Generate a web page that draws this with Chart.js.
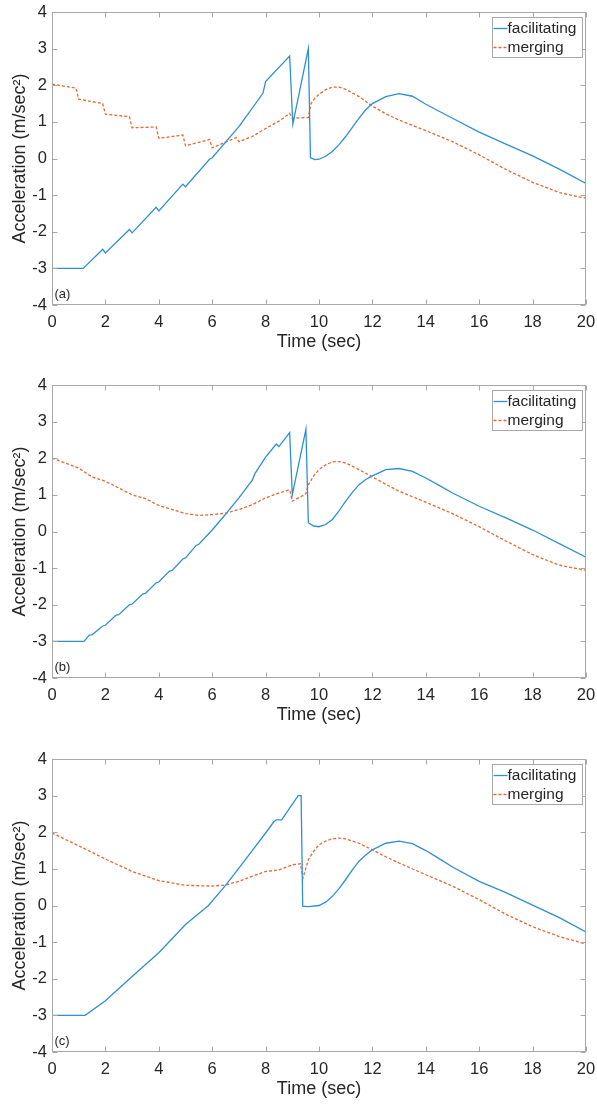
<!DOCTYPE html>
<html>
<head>
<meta charset="utf-8">
<script src="https://cdn.jsdelivr.net/npm/chart.js@4.4.1/dist/chart.umd.min.js"></script>
<style>
  html, body { margin: 0; padding: 0; background: #fff; overflow: hidden; }
  .panel { position: absolute; left: 0; width: 597px; height: 373px; }
</style>
</head>
<body>
<div class="panel" style="top:0"><canvas id="chartA" width="597" height="373"></canvas></div>
<div class="panel" style="top:373px"><canvas id="chartB" width="597" height="373"></canvas></div>
<div class="panel" style="top:747px"><canvas id="chartC" width="597" height="373"></canvas></div>
<script>
// axis ticks
const xTicks = [0, 2, 4, 6, 8, 10, 12, 14, 16, 18, 20];
const yTicks = [-4, -3, -2, -1, 0, 1, 2, 3, 4];

// (a)
const timeFacA = [0, 1.17, 1.9, 2.0, 2.9, 3.0, 3.9, 4.0, 4.9, 5.0, 5.9, 6.0, 7.0, 7.9, 8.0, 8.9, 9.02, 9.6, 9.68, 9.85, 10.0, 10.25, 10.5, 10.75, 11, 11.25, 11.5, 11.75, 12, 12.5, 13, 13.5, 14, 14.5, 15, 16, 17, 18, 19, 20];
const facA = [-3, -3, -2.48, -2.58, -1.94, -2.03, -1.33, -1.43, -0.70, -0.77, -0.02, 0.02, 0.87, 1.78, 2.1, 2.8, 0.94, 3.0, 0.02, -0.03, -0.02, 0.06, 0.19, 0.38, 0.6, 0.85, 1.1, 1.33, 1.5, 1.69, 1.77, 1.7, 1.48, 1.29, 1.1, 0.72, 0.39, 0.07, -0.29, -0.68];
const timeMerA = [0, 0.9, 1.0, 1.9, 2.0, 2.9, 3.0, 3.9, 4.0, 4.9, 5.0, 5.9, 6.0, 6.9, 7.0, 7.5, 8.0, 8.5, 8.9, 9.0, 9.6, 9.7, 9.85, 10.0, 10.25, 10.5, 10.75, 11, 11.5, 12, 12.5, 13, 14, 15, 16, 17, 18, 19, 20];
const merA = [2.03, 1.92, 1.62, 1.5, 1.21, 1.14, 0.84, 0.86, 0.55, 0.64, 0.35, 0.52, 0.29, 0.57, 0.46, 0.6, 0.82, 1.02, 1.23, 1.1, 1.12, 1.5, 1.65, 1.75, 1.88, 1.95, 1.95, 1.89, 1.69, 1.43, 1.22, 1.05, 0.76, 0.46, 0.1, -0.3, -0.65, -0.93, -1.09];

// (b)
const timeFacB = [0, 1.2, 1.4, 1.5, 1.9, 2.0, 2.4, 2.5, 2.9, 3.0, 3.4, 3.5, 3.9, 4.0, 4.4, 4.5, 4.9, 5.0, 5.4, 5.5, 6.0, 6.5, 7.0, 7.5, 7.6, 8.0, 8.4, 8.5, 8.9, 9.0, 9.51, 9.6, 9.8, 10.0, 10.25, 10.5, 10.75, 11, 11.25, 11.5, 11.75, 12, 12.5, 13, 13.5, 14, 14.5, 15, 16, 17, 18, 19, 20];
const facB = [-3, -3, -2.83, -2.82, -2.58, -2.56, -2.28, -2.27, -2.0, -1.98, -1.71, -1.69, -1.4, -1.38, -1.08, -1.06, -0.75, -0.72, -0.38, -0.35, 0.04, 0.47, 0.92, 1.4, 1.58, 2.03, 2.39, 2.32, 2.7, 1.0, 2.79, 0.24, 0.15, 0.13, 0.19, 0.33, 0.56, 0.83, 1.07, 1.28, 1.42, 1.52, 1.69, 1.72, 1.64, 1.46, 1.26, 1.05, 0.69, 0.37, 0.04, -0.33, -0.70];
const timeMerB = [0, 0.5, 1, 1.5, 2, 2.5, 3, 3.5, 4, 4.5, 5, 5.5, 6, 6.5, 7, 7.5, 8, 8.5, 8.9, 9.0, 9.5, 9.6, 9.8, 10, 10.25, 10.5, 10.75, 11, 11.5, 12, 12.5, 13, 14, 15, 16, 17, 18, 19, 20];
const merB = [2.0, 1.87, 1.73, 1.49, 1.37, 1.19, 1.0, 0.9, 0.71, 0.6, 0.49, 0.44, 0.46, 0.5, 0.6, 0.73, 0.92, 1.05, 1.14, 0.83, 1.02, 1.28, 1.52, 1.69, 1.82, 1.9, 1.91, 1.87, 1.69, 1.49, 1.29, 1.1, 0.8, 0.49, 0.13, -0.26, -0.63, -0.92, -1.06];

// (c)
const timeFacC = [0, 1.24, 2, 3, 4, 5, 5.86, 6.5, 7, 7.5, 8, 8.3, 8.4, 8.6, 9.22, 9.33, 9.39, 9.6, 10, 10.25, 10.5, 10.75, 11, 11.25, 11.5, 11.75, 12, 12.5, 13, 13.5, 14, 14.5, 15, 16, 17, 18, 19, 20];
const facC = [-3, -3, -2.6, -1.94, -1.29, -0.52, 0, 0.55, 1.02, 1.5, 1.98, 2.28, 2.34, 2.34, 3.0, 3.0, -0.02, -0.03, 0.0, 0.09, 0.25, 0.46, 0.71, 0.97, 1.21, 1.38, 1.52, 1.7, 1.76, 1.69, 1.5, 1.28, 1.05, 0.66, 0.35, 0.01, -0.33, -0.72];
const timeMerC = [0, 1, 2, 3, 4, 5, 6, 6.5, 7, 8, 8.5, 9, 9.3, 9.4, 9.6, 9.8, 10, 10.25, 10.5, 10.75, 11, 11.5, 12, 12.5, 13, 14, 15, 16, 17, 18, 19, 20];
const merC = [1.98, 1.63, 1.27, 0.93, 0.68, 0.55, 0.53, 0.56, 0.66, 0.93, 0.97, 1.11, 1.14, 0.75, 1.25, 1.48, 1.66, 1.76, 1.82, 1.84, 1.82, 1.7, 1.52, 1.33, 1.16, 0.84, 0.53, 0.16, -0.24, -0.58, -0.85, -1.05];

const textColor = '#262626';
const boxColor = '#a8a8a8';
const fontFamily = '"Liberation Sans", Arial, Helvetica, sans-serif';

// matlab style box, inward ticks, legend and panel letter
const matlabBox = {
  id: 'matlabBox',
  afterDraw(chart, args, opts) {
    const { ctx, chartArea: a, scales: { x, y } } = chart;
    const L = Math.round(a.left) + 0.5, R = Math.round(a.right) - 0.5;
    const T = Math.round(a.top) + 0.5, B = Math.round(a.bottom) - 0.5;
    ctx.save();
    ctx.strokeStyle = boxColor;
    ctx.lineWidth = 1;
    ctx.setLineDash([]);
    ctx.strokeRect(L, T, R - L, B - T);
    ctx.beginPath();
    xTicks.forEach(v => {
      const px = Math.round(x.getPixelForValue(v)) + 0.5;
      ctx.moveTo(px, B); ctx.lineTo(px, B - 5);
      ctx.moveTo(px, T); ctx.lineTo(px, T + 5);
    });
    yTicks.forEach(v => {
      const py = Math.round(y.getPixelForValue(v)) + 0.5;
      ctx.moveTo(L, py); ctx.lineTo(L + 5, py);
      ctx.moveTo(R, py); ctx.lineTo(R - 5, py);
    });
    ctx.stroke();

    // panel letter
    ctx.fillStyle = textColor;
    ctx.font = '13px ' + fontFamily;
    ctx.textAlign = 'left';
    ctx.textBaseline = 'middle';
    ctx.fillText(opts.label, L + 2, B - 10);

    // legend
    const bw = 90, bh = 40;
    const bx = Math.round(a.right) - 4 - bw + 0.5, by = Math.round(a.top) + 5 + 0.5;
    ctx.fillStyle = '#fff';
    ctx.fillRect(bx, by, bw, bh);
    ctx.strokeStyle = boxColor;
    ctx.strokeRect(bx, by, bw, bh);
    ctx.font = '15.5px ' + fontFamily;
    chart.data.datasets.forEach((ds, i) => {
      const cy = by + 11 + i * 19;
      ctx.strokeStyle = ds.borderColor;
      ctx.lineWidth = ds.borderWidth;
      ctx.setLineDash(ds.borderDash || []);
      ctx.beginPath();
      ctx.moveTo(bx + 1, cy); ctx.lineTo(bx + 15, cy);
      ctx.stroke();
      ctx.fillStyle = textColor;
      ctx.fillText(ds.label, bx + 15, cy);
    });
    ctx.restore();
  }
};

function pts(ts, vs) {
  return ts.map((t, i) => ({ x: t, y: vs[i] }));
}

function makeChart(id, label, tFac, fac, tMer, mer) {
  return new Chart(document.getElementById(id), {
    type: 'line',
    data: {
      datasets: [{
        label: 'facilitating',
        data: pts(tFac, fac),
        borderColor: '#2f8fd3',
        borderWidth: 1.3,
        pointRadius: 0,
        tension: 0,
        fill: false
      }, {
        label: 'merging',
        data: pts(tMer, mer),
        borderColor: '#e2692f',
        borderWidth: 1.3,
        borderDash: [3, 2],
        pointRadius: 0,
        tension: 0,
        fill: false
      }]
    },
    options: {
      responsive: false,
      animation: false,
      layout: { padding: { top: 12, right: 11, left: 0, bottom: 0 } },
      plugins: {
        legend: { display: false },
        tooltip: { enabled: false },
        matlabBox: { label: label }
      },
      scales: {
        x: {
          type: 'linear',
          min: 0, max: 20,
          afterFit: s => { s.height = 68; s.paddingLeft = 0; s.paddingRight = 0; },
          afterBuildTicks: s => { s.ticks = xTicks.map(v => ({ value: v })); },
          ticks: { color: textColor, font: { size: 16.5, family: fontFamily }, padding: 8, maxRotation: 0, autoSkip: false },
          grid: { display: false, drawTicks: false },
          border: { display: false },
          title: { display: true, text: 'Time (sec)', color: textColor, font: { size: 18, family: fontFamily }, padding: { top: 0, bottom: 20 } }
        },
        y: {
          min: -4, max: 4,
          afterFit: s => { s.width = 52; s.paddingTop = 0; s.paddingBottom = 0; },
          afterBuildTicks: s => { s.ticks = yTicks.map(v => ({ value: v })); },
          ticks: { color: textColor, font: { size: 16.5, family: fontFamily }, padding: 5 },
          grid: { display: false, drawTicks: false },
          border: { display: false },
          title: { display: true, text: 'Acceleration (m/sec²)', color: textColor, font: { size: 18, family: fontFamily }, padding: { top: 9, bottom: 0 } }
        }
      }
    },
    plugins: [matlabBox]
  });
}

makeChart('chartA', '(a)', timeFacA, facA, timeMerA, merA);
makeChart('chartB', '(b)', timeFacB, facB, timeMerB, merB);
makeChart('chartC', '(c)', timeFacC, facC, timeMerC, merC);
</script>
</body>
</html>
